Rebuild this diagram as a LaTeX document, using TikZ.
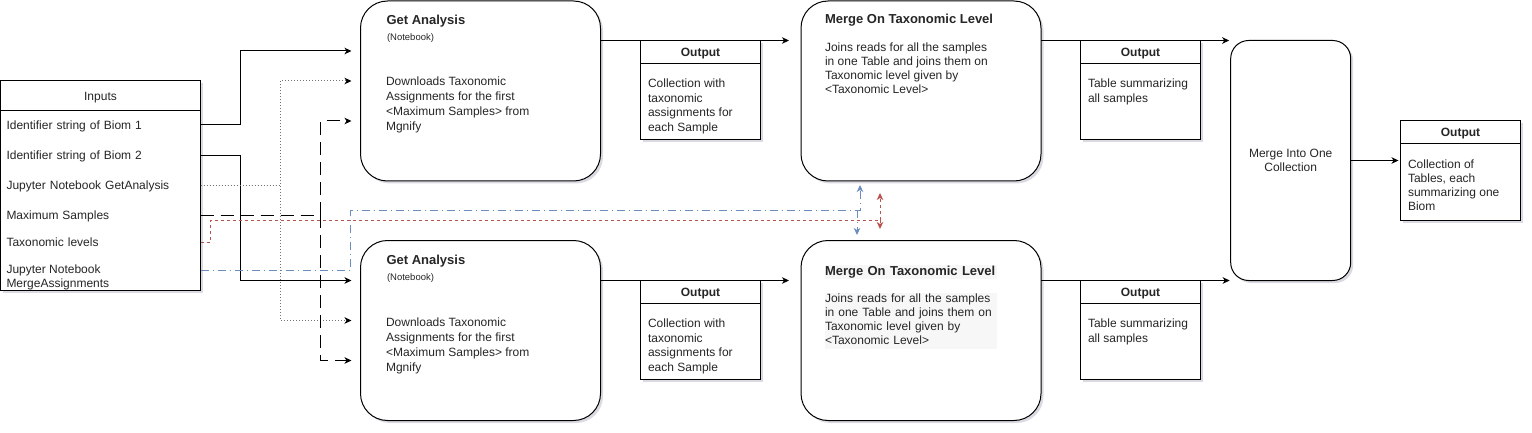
\documentclass[tikz,border=0pt]{standalone}
\usepackage{fontspec}
\setmainfont{Liberation Sans}
\usetikzlibrary{arrows.meta,shadows,calc}
\definecolor{redc}{RGB}{184,84,80}
\definecolor{bluec}{RGB}{108,142,191}
\definecolor{txt}{RGB}{38,38,38}
\definecolor{shd}{RGB}{70,70,110}
\newcommand\fsz[2]{\fontsize{#1}{#2}\selectfont}
\begin{document}
\begin{tikzpicture}[x=1pt,y=-1pt,
  every node/.style={inner sep=0pt,outer sep=0pt,text=txt},
  shadowed/.style={drop shadow={shadow xshift=2.5pt,shadow yshift=-2.5pt,opacity=0.2,fill=shd}},
  proc/.style={draw=black,line width=1pt,fill=white,rounded corners=27pt,anchor=north west,minimum width=240pt,minimum height=180pt,shadowed},
  obox/.style={draw=black,line width=1pt,fill=white,anchor=north west,minimum width=120pt,minimum height=99pt,shadowed},
  ohead/.style={draw=black,line width=1pt,anchor=north west,minimum width=120pt,minimum height=23pt,text height=8.6pt,text depth=0pt,font=\fsz{12}{14}\bfseries},
  ttl/.style={anchor=base west,font=\fsz{13}{15}\bfseries},
  note/.style={anchor=base west,font=\fsz{9.5}{11}},
  body/.style={anchor=north west,align=left,font=\fsz{12}{#1}},
  row/.style={minimum width=200pt,text width=188pt,align=left,minimum height=30pt,text height=8.6pt,text depth=0pt,font=\fsz{12}{14}},
  myarr/.style={-{Stealth[length=7pt,width=6.5pt,inset=2pt]}},
  solidc/.style={line width=1pt,draw=black,myarr},
  dotc/.style={line width=1pt,draw=black!55,dash pattern=on 1pt off 2pt,-{Stealth[length=7pt,width=6.5pt,inset=2pt,color=black]}},
  longd/.style={line width=1pt,draw=black,dash pattern=on 13pt off 7pt,myarr},
  redd/.style={line width=1pt,draw=redc,dash pattern=on 3pt off 3pt,myarr},
  blued/.style={line width=1pt,draw=bluec,dash pattern=on 8pt off 4pt on 1pt off 4pt,myarr}
]
\useasboundingbox (0,0) rectangle (1532,433);

% ---------- Inputs ----------
\node[draw=black,line width=1pt,fill=white,anchor=north west,minimum width=200pt,minimum height=209pt,shadowed] (inpb) at (0.5,81) {};
\node[draw=black,line width=1pt,anchor=north west,minimum width=200pt,minimum height=30pt,text height=8.6pt,text depth=0pt,font=\fsz{12}{14}] (inph) at (0.5,81) {Inputs};
\node[row] (r1) at (100.5,125) {Identifier string of Biom 1};
\node[row] (r2) at (100.5,155.5) {Identifier string of Biom 2};
\node[row] (r3) at (100.5,185.3) {Jupyter Notebook GetAnalysis};
\node[row] (r4) at (100.5,215) {Maximum Samples};
\node[row] (r5) at (100.5,242) {Taxonomic levels};
\node[body=14] (r6) at (6.5,263.8) {\strut Jupyter Notebook\\MergeAssignments};

% ---------- Get Analysis ----------
\node[proc] (ga1) at (360.5,1) {};
\node[ttl] (ga1t) at (386.5,24.5) {Get Analysis};
\node[note] (ga1n) at (387,40.5) {(Notebook)};
\node[body=15] (ga1d) at (386,75.5) {\strut Downloads Taxonomic\\Assignments for the first\\<Maximum Samples> from\\Mgnify};

\node[proc] (ga2) at (360.5,240.5) {};
\node[ttl] (ga2t) at (386.5,264) {Get Analysis};
\node[note] (ga2n) at (387,280.5) {(Notebook)};
\node[body=15] (ga2d) at (386,315.5) {\strut Downloads Taxonomic\\Assignments for the first\\<Maximum Samples> from\\Mgnify};

% ---------- Outputs of Get Analysis ----------
\node[obox] (o1) at (640.5,40.5) {};
\node[ohead] (o1h) at (o1.north west) {Output};
\node[body=14.6] (o1d) at (648,77.4) {\strut Collection with\\taxonomic\\assignments for\\each Sample};

\node[obox] (o1b) at (640.5,280.5) {};
\node[ohead] (o1bh) at (o1b.north west) {Output};
\node[body=14.6] (o1bd) at (648,317.4) {\strut Collection with\\taxonomic\\assignments for\\each Sample};

% ---------- Merge On Taxonomic Level ----------
\node[proc] (m1) at (801,1) {};
\node[ttl] (m1t) at (825,23.8) {Merge On Taxonomic Level};
\node[body=14.2] (m1d) at (825,41.1) {\strut Joins reads for all the samples\\in one Table and joins them on\\Taxonomic level given by\\<Taxonomic Level>};

\node[proc] (m2) at (801,240.5) {};
\node[ttl,fill=black!3,text width=172pt,align=left,text height=10pt,text depth=3.5pt] (m2t) at (825,275.2) {Merge On Taxonomic Level};
\node[body=14,fill=black!3,text width=172pt] (m2d) at (825,292.8) {\strut Joins reads for all the samples\\in one Table and joins them on\\Taxonomic level given by\\<Taxonomic Level>\strut};

% ---------- Outputs of Merge ----------
\node[obox] (o2) at (1080.5,40.5) {};
\node[ohead] (o2h) at (o2.north west) {Output};
\node[body=15] (o2d) at (1088,77.1) {\strut Table summarizing\\all samples};

\node[obox] (o2b) at (1080.5,280.5) {};
\node[ohead] (o2bh) at (o2b.north west) {Output};
\node[body=15] (o2bd) at (1088,317.1) {\strut Table summarizing\\all samples};

% ---------- Merge Into One Collection ----------
\node[draw=black,line width=1pt,fill=white,rounded corners=18pt,anchor=north west,minimum width=120pt,minimum height=240pt,shadowed] (mio) at (1230.7,40.5) {};
\node[anchor=north,align=center,font=\fsz{12}{14}] (miot) at (1290.7,147.5) {\strut Merge Into One\\Collection};

\node[obox,minimum height=100pt] (o3) at (1400.5,120.5) {};
\node[ohead] (o3h) at (o3.north west) {Output};
\node[body=14.2] (o3d) at (1408,158.4) {\strut Collection of\\Tables, each\\summarizing one\\Biom};

% ---------- Connectors ----------
\draw[solidc] (r1.east) -- ++(40,0) |- ($(ga1.north west)+(-9,50)$);
\draw[solidc] (r2.east) -- ++(40,0) |- ($(ga2.north west)+(-9,40)$);
\draw[dotc] (r3.east) -- ++(80,0) |- ($(ga1.north west)+(-9,80)$);
\draw[dotc] (r3.east) -- ++(80,0) |- ($(ga2.north west)+(-9,80)$);
\draw[longd] (r4.east) -- ++(120,0) |- ($(ga1.north west)+(-9,120)$);
\draw[longd] (r4.east) -- ++(120,0) |- ($(ga2.north west)+(-9,120)$);

\coordinate (rj) at ($(m1.south west)+(79,39)$);
\draw[redd] (r5.east) -- ++(10,0) |- (rj) -- ($(m1.south west)+(79,12)$);
\draw[redd] (rj) -- ($(m2.north west)+(79,-11.5)$);

\coordinate (bj) at ($(m1.south west)+(59,29)$);
\draw[blued] ($(r6.north west -| inpb.east)+(0,6.2)$) -- ++(150,0) |- (bj) -- ($(m1.south west)+(59,4)$);
\draw[blued] ($(bj)+(-3,0)$) -- ($(m2.north west)+(56,-5.5)$);

\draw[solidc] (ga1.east |- o1.north) -- ($(m1.west |- o1.north)+(-12,0)$);
\draw[solidc] (ga2.east |- o1b.north) -- ($(m2.west |- o1b.north)+(-12,0)$);
\draw[solidc] (m1.east |- o2.north) -- ($(mio.west |- o2.north)+(-1.5,0)$);
\draw[solidc] (m2.east |- o2b.north) -- ($(mio.west |- o2b.north)+(-1,0)$);
\draw[solidc] (mio.east) -- ($(o3.west |- mio.east)+(-2,0)$);
\end{tikzpicture}
\end{document}
